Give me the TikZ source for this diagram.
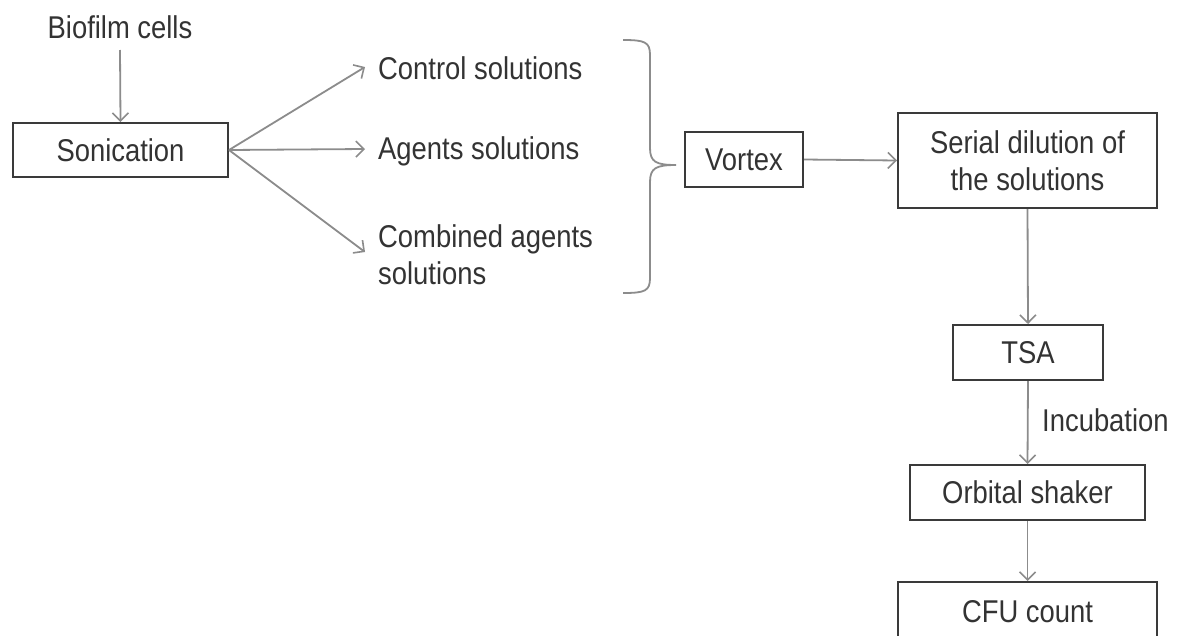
\documentclass[tikz,border=0pt]{standalone}
\usepackage{fontspec}
\setmainfont[FakeStretch=0.87]{Liberation Sans}
\usetikzlibrary{arrows.meta}
\definecolor{txt}{HTML}{333333}
\definecolor{arr}{HTML}{8C8C8C}
\definecolor{boxc}{HTML}{3A3A3A}
\begin{document}
\begin{tikzpicture}[x=1pt,y=-1pt,
  every node/.style={text=txt,font=\fontsize{31.5}{37}\selectfont,inner sep=0pt},
  stepbox/.style={draw=boxc,line width=2pt,fill=white,align=center},
  conn/.style={draw=arr,line width=1.8pt,-{Straight Barb[length=8pt,width=16pt,line width=1.6pt]}},
  lbl/.style={anchor=west,align=left}]
\clip (0,0) rectangle (1180,635);
\fill[white] (0,0) rectangle (1180,635);
% nodes
\node (bio) at (120,27) {Biofilm cells};
\node[stepbox,minimum width=215pt,minimum height=54pt] (son) at (120.5,150) {Sonication};
\node[lbl] (ctrl) at (378,68) {Control solutions};
\node[lbl] (agt) at (378,151) {Agents solutions};
\node[lbl] (comb) at (378,255) {Combined agents\\solutions};
\node[stepbox,minimum width=118pt,minimum height=55pt] (vor) at (744,159.5) {Vortex};
\node[stepbox,minimum width=259pt,minimum height=95pt] (ser) at (1027.5,160.5) {Serial dilution of\\the solutions};
\node[stepbox,minimum width=150pt,minimum height=55pt] (tsa) at (1028,352.5) {TSA};
\node[stepbox,minimum width=235pt,minimum height=55pt] (orb) at (1027.5,492.5) {Orbital shaker};
\node[stepbox,minimum width=259pt,minimum height=90pt,text depth=0pt] (cfu) at (1027.5,627) {};
\node (cfut) at (1027.5,612) {CFU count};
\node[anchor=west] (inc) at (1042,420) {Incubation};
% connector end points
\coordinate (bioend) at (120,50);
\coordinate (ctrlp) at (365,67);
\coordinate (agtp) at (365,149);
\coordinate (combp) at (365,252);
\coordinate (bt) at (623,40);
\coordinate (tip) at (676,165);
\coordinate (bb) at (623,293);
% connectors
\draw[conn] (bioend) -- (son.north);
\draw[conn] (son.east) -- (ctrlp);
\draw[conn] (son.east) -- (agtp);
\draw[conn] (son.east) -- (combp);
\draw[conn] (vor.east) -- (ser.west);
\draw[conn] (ser.south) -- (tsa.north);
\draw[conn] (tsa.south) -- (orb.north);
\draw[conn] (orb.south) -- (cfu.north);
% brace
\draw[draw=arr,line width=1.8pt] (bt) .. controls (645,40) and (650,42) .. (650,55)
  -- (650,148) .. controls (650,162) and (656,165) .. (tip)
  .. controls (656,165) and (650,168) .. (650,182)
  -- (650,278) .. controls (650,291) and (645,293) .. (bb);
\end{tikzpicture}
\end{document}
